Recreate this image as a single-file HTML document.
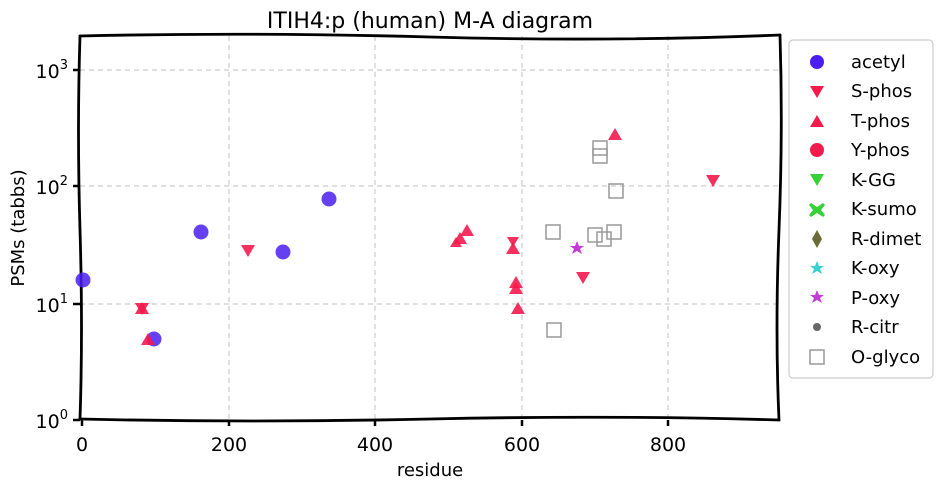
<!DOCTYPE html>
<html><head><meta charset="utf-8"><style>
body{margin:0;background:#fff}
svg text{font-family:"DejaVu Sans","Liberation Sans",sans-serif}
</style></head><body>
<svg width="941" height="492" viewBox="0 0 941 492" xmlns="http://www.w3.org/2000/svg">
<rect width="941" height="492" fill="#fff"/>
<g stroke="#cccccc" stroke-width="1.2" stroke-dasharray="5,4" fill="none">
<line x1="229" y1="36" x2="229" y2="420"/>
<line x1="375" y1="36" x2="375" y2="420"/>
<line x1="522" y1="36" x2="522" y2="420"/>
<line x1="668" y1="36" x2="668" y2="420"/>
<line x1="80" y1="70" x2="780" y2="70"/>
<line x1="80" y1="186" x2="780" y2="186"/>
<line x1="80" y1="304" x2="780" y2="304"/>
</g>
<g fill="none" stroke="#000" stroke-width="2.8" stroke-linecap="round">
<path d="M80,36 Q250,32 430,37 T780,35"/>
<path d="M80,419 Q250,423 430,419 T779,420"/>
<path d="M80,36 Q77,130 80,230 T80,419"/>
<path d="M780,35 Q783,130 779,230 T779,420"/>
</g>
<g stroke="#000" stroke-width="2.5">
<line x1="82" y1="420" x2="82" y2="426"/><line x1="229" y1="420" x2="229" y2="426"/>
<line x1="375" y1="420" x2="375" y2="426"/><line x1="522" y1="420" x2="522" y2="426"/>
<line x1="668" y1="420" x2="668" y2="426"/>
<line x1="73" y1="70" x2="80" y2="70"/><line x1="73" y1="186" x2="80" y2="186"/>
<line x1="73" y1="304" x2="80" y2="304"/><line x1="73" y1="420" x2="80" y2="420"/>
</g>
<g font-size="19" fill="#000">
<text x="82" y="451" text-anchor="middle">0</text>
<text x="229" y="451" text-anchor="middle">200</text>
<text x="375" y="451" text-anchor="middle">400</text>
<text x="522" y="451" text-anchor="middle">600</text>
<text x="668" y="451" text-anchor="middle">800</text>
<text x="68" y="78" text-anchor="end">10<tspan dy="-9" font-size="13">3</tspan></text>
<text x="68" y="194" text-anchor="end">10<tspan dy="-9" font-size="13">2</tspan></text>
<text x="68" y="312" text-anchor="end">10<tspan dy="-9" font-size="13">1</tspan></text>
<text x="68" y="428" text-anchor="end">10<tspan dy="-9" font-size="13">0</tspan></text>
</g>
<text x="430" y="476" font-size="18" text-anchor="middle">residue</text>
<text x="24" y="228" font-size="18" text-anchor="middle" transform="rotate(-90 24 228)">PSMs (tabbs)</text>
<text x="430" y="28" font-size="22" text-anchor="middle">ITIH4:p (human) M-A diagram</text>
<g fill="#4a1ef0" fill-opacity="0.85">
<circle cx="83" cy="280" r="7.5"/><circle cx="154" cy="339" r="7.5"/><circle cx="201" cy="232" r="7.5"/>
<circle cx="283" cy="252" r="7.5"/><circle cx="329" cy="199" r="7.5"/>
</g>
<g fill="#f41a4c" fill-opacity="0.9">
<path d="M135,303 h14 l-7,12z"/><path d="M241,245 h14 l-7,12z"/><path d="M706,175 h14 l-7,12z"/>
<path d="M576,272 h14 l-7,12z"/><path d="M507,237 h12 l-6,10z"/>
<path d="M148,333 l7,12 h-14z"/><path d="M142,302 l7,12 h-14z"/>
<path d="M467,224 l7,12 h-14z"/><path d="M460,232 l7,12 h-14z"/><path d="M456,237 l6,10 h-12z"/>
<path d="M513,242 l7,12 h-14z"/><path d="M516,276 l7,12 h-14z"/><path d="M516,282 l7,12 h-14z"/>
<path d="M518,302 l7,12 h-14z"/><path d="M615,128 l7,12 h-14z"/>
</g>
<g fill="none" stroke="#999" stroke-width="1.5">
<rect x="546" y="225" width="14" height="14"/><rect x="547" y="323" width="14" height="14"/>
<rect x="593" y="141" width="14" height="14"/><rect x="593" y="149" width="14" height="14"/>
<rect x="609" y="184" width="14" height="14"/><rect x="588" y="228" width="14" height="14"/>
<rect x="597" y="232" width="14" height="14"/><rect x="607" y="225" width="14" height="14"/>
</g>
<path d="M577,241 l2,5 5,0 -4,3 2,5 -5,-3 -5,3 2,-5 -4,-3 5,0z" fill="#c43cd8"/>
<rect x="789" y="40" width="144" height="338" rx="4" fill="#fff" stroke="#ccc" stroke-width="1.2"/>
<g font-size="18" fill="#000">
<text x="851" y="68">acetyl</text><text x="851" y="97">S-phos</text><text x="851" y="127">T-phos</text>
<text x="851" y="156">Y-phos</text><text x="851" y="186">K-GG</text><text x="851" y="215">K-sumo</text>
<text x="851" y="245">R-dimet</text><text x="851" y="274">K-oxy</text><text x="851" y="304">P-oxy</text>
<text x="851" y="333">R-citr</text><text x="851" y="363">O-glyco</text>
</g>
<circle cx="817" cy="62" r="7" fill="#4a1ef0"/>
<path d="M810,86 h14 l-7,12z" fill="#f41a4c"/>
<path d="M817,115 l7,12 h-14z" fill="#f41a4c"/>
<circle cx="817" cy="150" r="7" fill="#f41a4c"/>
<path d="M810,174 h14 l-7,12z" fill="#38d038"/>
<path d="M811,203 l6,4 6,-4 2,2 -4,5 4,5 -2,2 -6,-4 -6,4 -2,-2 4,-5 -4,-5z" fill="#38d038"/>
<path d="M817,230 l5,9 -5,9 -5,-9z" fill="#6b6b3a"/>
<path d="M817,261 l2,5 5,0 -4,3 2,5 -5,-3 -5,3 2,-5 -4,-3 5,0z" fill="#3ad0d0"/>
<path d="M817,290 l2,5 5,0 -4,3 2,5 -5,-3 -5,3 2,-5 -4,-3 5,0z" fill="#c43cd8"/>
<circle cx="817" cy="327" r="4" fill="#666"/>
<rect x="810" y="350" width="14" height="14" fill="none" stroke="#999" stroke-width="1.5"/>
</svg>
</body></html>
